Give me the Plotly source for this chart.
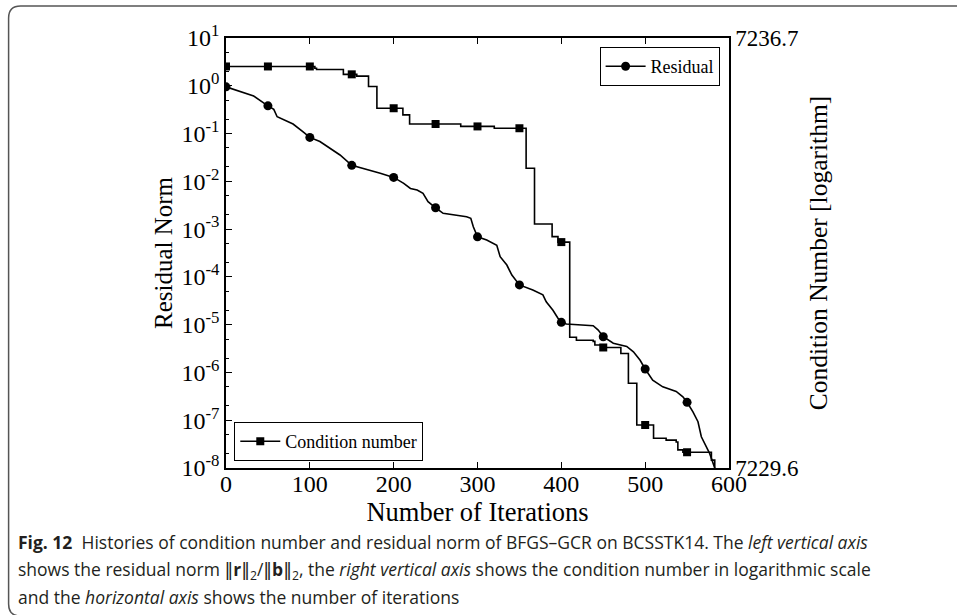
import numpy as np
import plotly.graph_objects as go

# ---------------- data ----------------
res_iter = [0, 17, 33, 50, 57, 61, 69, 80, 92, 100, 112, 124, 136, 150, 168, 184,
            200, 212, 220, 228, 235, 241, 250, 259, 287, 292, 295, 300, 311, 323,
            327, 335, 341, 350, 366, 378, 382, 390, 396, 400, 406, 438, 444, 450,
            462, 478, 486, 494, 500, 509, 521, 537, 545, 550, 557, 563, 567, 573,
            577, 583]
res_val = [0.95, 0.75, 0.61, 0.38, 0.32, 0.225, 0.192, 0.158, 0.109, 0.083, 0.068,
           0.049, 0.0356, 0.0216, 0.0178, 0.0147, 0.0121, 0.0091, 0.0071, 0.0066,
           0.0056, 0.00375, 0.0028, 0.00214, 0.00182, 0.00168, 0.00112, 6.9e-4,
           5.9e-4, 4.6e-4, 2.65e-4, 1.77e-4, 1.09e-4, 6.8e-5, 5.3e-5, 4.2e-5,
           3.0e-5, 2.0e-5, 1.36e-5, 1.12e-5, 1.03e-5, 9.5e-6, 7.7e-6, 5.6e-6,
           4.1e-6, 3.5e-6, 2.7e-6, 1.8e-6, 1.18e-6, 6.9e-7, 5.0e-7, 4.0e-7,
           3.1e-7, 2.37e-7, 1.5e-7, 9.3e-8, 4.5e-8, 2.8e-8, 2.0e-8, 1.0e-8]

cond_iter = [0, 106, 108, 140, 156, 170, 180, 211, 219, 280, 320, 358, 368, 389,
             396, 410, 418, 438, 440, 447, 471, 480, 490, 510, 525, 537, 539, 545,
             579, 583]
cond_val = [7236.23, 7236.20, 7236.18, 7236.10, 7236.07, 7235.90, 7235.54, 7235.43,
            7235.28, 7235.24, 7235.21, 7234.55, 7233.63, 7233.42, 7233.33, 7231.76,
            7231.71, 7231.69, 7231.63, 7231.59, 7231.49, 7231.00, 7230.31, 7230.09,
            7230.06, 7230.03, 7229.90, 7229.86, 7229.73, 7229.60]

marker_iter = [0, 50, 100, 150, 200, 250, 300, 350, 400, 450, 500, 550]

x_ticks = [0, 100, 200, 300, 400, 500, 600]
y_exponents = [-8, -7, -6, -5, -4, -3, -2, -1, 0, 1]
y2_ticks = [7229.6, 7236.7]

# marker values taken from the series themselves
res_lookup = dict(zip(res_iter, res_val))
res_mk = [res_lookup[m] for m in marker_iter]
ci = np.array(cond_iter)
cond_mk = [cond_val[int(np.searchsorted(ci, m, side="right") - 1)] for m in marker_iter]

# ---------------- layout helpers (pixel -> paper) ----------------
W, H = 957, 615
L, R, T, B = 225.7, 957 - 729.4, 38, 615 - 468
PW, PH = W - L - R, H - T - B


def px(xp):
    return (xp - L) / PW


def py(yp):
    return (H - B - yp) / PH


SERIF = "Liberation Serif"
SANS = "Open Sans"

fig = go.Figure()
fig.add_trace(go.Scatter(x=res_iter, y=res_val, mode="lines",
                         line=dict(color="black", width=1.6), showlegend=False,
                         hoverinfo="skip"))
fig.add_trace(go.Scatter(x=marker_iter, y=res_mk, mode="markers",
                         marker=dict(symbol="circle", size=9, color="black"),
                         showlegend=False))
fig.add_trace(go.Scatter(x=cond_iter, y=cond_val, mode="lines", yaxis="y2",
                         line=dict(color="black", width=1.6, shape="hv"),
                         showlegend=False, hoverinfo="skip"))
fig.add_trace(go.Scatter(x=marker_iter, y=cond_mk, mode="markers", yaxis="y2",
                         marker=dict(symbol="square", size=8, color="black"),
                         showlegend=False))
# legend entries
fig.add_trace(go.Scatter(x=[None], y=[None], mode="lines+markers", name="Residual",
                         line=dict(color="black", width=1.6),
                         marker=dict(symbol="circle", size=9, color="black"),
                         legend="legend"))
fig.add_trace(go.Scatter(x=[None], y=[None], mode="lines+markers", name="Condition number",
                         yaxis="y2", line=dict(color="black", width=1.6),
                         marker=dict(symbol="square", size=8, color="black"),
                         legend="legend2"))

axis_common = dict(showline=True, linecolor="black", linewidth=1.5, showgrid=False,
                   zeroline=False, tickcolor="black", automargin=False)

fig.update_layout(
    width=W, height=H,
    margin=dict(l=L, r=R, t=T, b=B, pad=0),
    paper_bgcolor="white", plot_bgcolor="white",
    font=dict(family=SERIF, color="black"),
    xaxis=dict(range=[0, 600], tickvals=x_ticks, ticks="inside", ticklen=6,
               tickwidth=1.3, mirror="ticks", ticklabelstandoff=-7,
               tickfont=dict(family=SERIF, size=24, color="black"),
               title=dict(text="Number of Iterations", standoff=0,
                          font=dict(family=SERIF, size=26.5, color="black")),
               **axis_common),
    yaxis=dict(type="log", range=[-8, 1],
               tickvals=[10.0 ** e for e in y_exponents],
               ticktext=["10<sup>%d</sup>" % e for e in y_exponents],
               ticks="inside", ticklen=6, tickwidth=1.3,
               minor=dict(ticks="inside", ticklen=3, tickcolor="black", showgrid=False),
               tickfont=dict(family=SERIF, size=24, color="black"),
               title=dict(text="Residual Norm", standoff=2,
                          font=dict(family=SERIF, size=25, color="black")),
               **axis_common),
    yaxis2=dict(overlaying="y", side="right", range=[7229.6, 7236.7],
                tickvals=y2_ticks, ticktext=["%.1f" % v for v in y2_ticks],
                ticks="",
                tickfont=dict(family=SERIF, size=23, color="black"),
                title=dict(text="Condition Number [logarithm]", standoff=12,
                           font=dict(family=SERIF, size=25.5, color="black")),
                **axis_common),
    legend=dict(x=px(720), xanchor="right", y=py(47), yanchor="top",
                bordercolor="black", borderwidth=1, bgcolor="white",
                itemwidth=40, font=dict(family=SERIF, size=18, color="black")),
    legend2=dict(x=px(234), xanchor="left", y=py(461), yanchor="bottom",
                 bordercolor="black", borderwidth=1, bgcolor="white",
                 itemwidth=40, font=dict(family=SERIF, size=18, color="black")),
)

# rounded figure frame
frame = "M %f,%f Q %f,%f %f,%f L %f,%f Q %f,%f %f,%f L %f,%f" % (
    px(20), py(616), px(8), py(616), px(8), py(604),
    px(8), py(18), px(8), py(6), px(20), py(6), px(990), py(6))
fig.add_shape(type="path", path=frame, xref="paper", yref="paper",
              line=dict(color="#555555", width=1.5))

BAR = '<span style="font-family:DejaVu Sans">‖</span>'
captions = [
    "<b>Fig. 12</b>  Histories of condition number and residual norm of BFGS–GCR on BCSSTK14. The <i>left vertical axis</i>",
    "shows the residual norm " + BAR + "<b>r</b>" + BAR + "<sub>2</sub>/" + BAR + "<b>b</b>" + BAR
    + "<sub>2</sub>, the <i>right vertical axis</i> shows the condition number in logarithmic scale",
    "and the <i>horizontal axis</i> shows the number of iterations",
]
for text, yc in zip(captions, [542, 570, 597]):
    fig.add_annotation(text=text, xref="paper", yref="paper", x=px(15), y=py(yc),
                       xanchor="left", yanchor="middle", showarrow=False,
                       font=dict(family=SANS, size=17.5, color="#231f20"))

fig.write_html("out.html")
